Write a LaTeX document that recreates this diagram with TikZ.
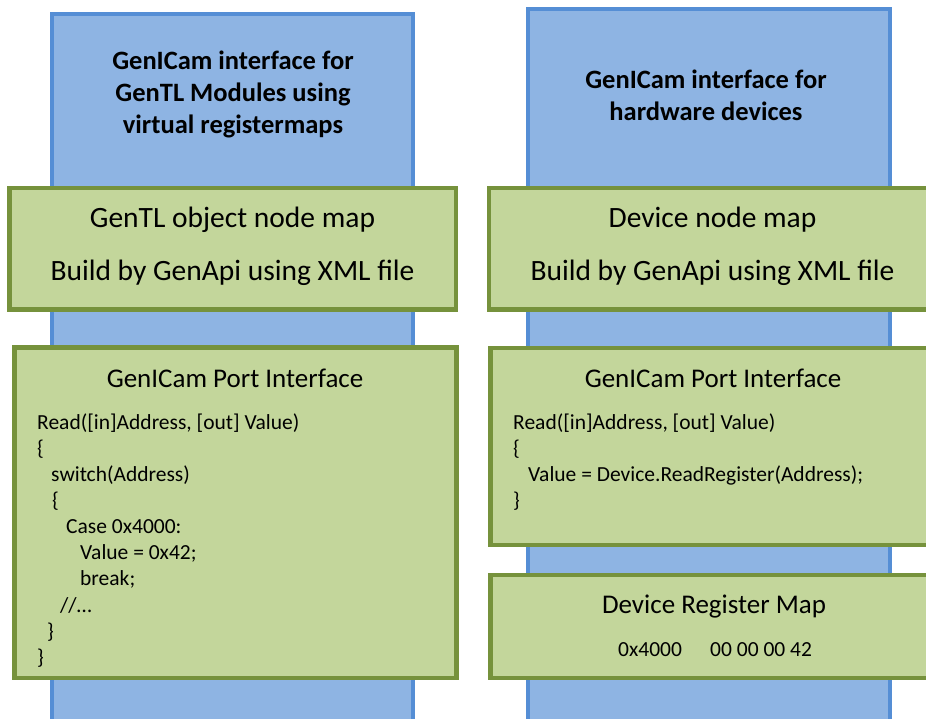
\documentclass[tikz,border=0pt]{standalone}
\usepackage{fontspec}
\setmainfont{Carlito}
\definecolor{colfill}{RGB}{142,180,227}
\definecolor{coledge}{RGB}{85,142,213}
\definecolor{boxfill}{RGB}{195,214,155}
\definecolor{boxedge}{RGB}{118,146,60}
\tikzset{
  column/.style={draw=coledge, fill=colfill, line width=4pt, anchor=north west, inner sep=0pt, outer sep=0pt},
  layer/.style={draw=boxedge, fill=boxfill, line width=4.2pt, anchor=north west, inner sep=0pt, outer sep=0pt},
  heading/.style={font=\fontsize{26.5}{32}\selectfont\bfseries, anchor=base, inner sep=0pt},
  maptitle/.style={font=\fontsize{29.5}{35}\selectfont, anchor=base, inner sep=0pt},
  porttitle/.style={font=\fontsize{27}{32}\selectfont, anchor=base, inner sep=0pt},
  code/.style={font=\fontsize{21.5}{26}\selectfont, anchor=base west, inner sep=0pt},
  regval/.style={font=\fontsize{21.5}{26}\selectfont, anchor=base west, inner sep=0pt},
}
\begin{document}
\begin{tikzpicture}[x=1pt, y=-1pt]
\useasboundingbox (0,0) rectangle (926,719);
\clip (0,0) rectangle (926,719);

% two interface columns
\node[column, minimum width=361pt, minimum height=760pt] (lcol) at (52,14) {};
\node[column, minimum width=362pt, minimum height=760pt] (rcol) at (527.5,9.5) {};

\node[heading] (lh1) at (233,70) {GenICam interface for};
\node[heading] (lh2) at (233,102) {GenTL Modules using};
\node[heading] (lh3) at (233,134) {virtual registermaps};
\node[heading] (rh1) at (706,89) {GenICam interface for};
\node[heading] (rh2) at (706,121) {hardware devices};

% node map layers
\node[layer, minimum width=446.5pt, minimum height=121.5pt] (lmap) at (9.5,188) {};
\node[layer, minimum width=450pt, minimum height=121.5pt] (rmap) at (489,188) {};
\node[maptitle] (lmap1) at (232.5,228) {GenTL object node map};
\node[maptitle] (lmap2) at (232.5,280) {Build by GenApi using XML file};
\node[maptitle] (rmap1) at (712.5,228) {Device node map};
\node[maptitle] (rmap2) at (712.5,280) {Build by GenApi using XML file};

% port interface layers
\node[layer, minimum width=442pt, minimum height=330.5pt] (lport) at (14.5,347.5) {};
\node[layer, minimum width=450pt, minimum height=197pt] (rport) at (490.5,348) {};
\node[porttitle] (lpt) at (235,387) {GenICam Port Interface};
\node[porttitle] (rpt) at (713,387) {GenICam Port Interface};

\node[code] (lc1) at (37,429.3) {Read([in]Address, [out] Value)};
\node[code] (lc2) at (37,455.5) {\{};
\node[code] (lc3) at (51,481.7) {switch(Address)};
\node[code] (lc4) at (52,507.9) {\{};
\node[code] (lc5) at (66,533.5) {Case 0x4000:};
\node[code] (lc6) at (80,559.5) {Value = 0x42;};
\node[code] (lc7) at (80,585.5) {break;};
\node[code] (lc8) at (60,612.5) {//…};
\node[code] (lc9) at (47,638.5) {\}};
\node[code] (lc10) at (37,664) {\}};

\node[code] (rc1) at (513,429.3) {Read([in]Address, [out] Value)};
\node[code] (rc2) at (513,455.5) {\{};
\node[code] (rc3) at (528,481.7) {Value = Device.ReadRegister(Address);};
\node[code] (rc4) at (513,507.9) {\}};

% device register map
\node[layer, minimum width=450pt, minimum height=102.7pt] (rreg) at (490.5,575) {};
\node[porttitle] (rrt) at (714,613) {Device Register Map};
\node[regval] (raddr) at (618,656) {0x4000};
\node[regval] (rdata) at (710,656) {00 00 00 42};
\end{tikzpicture}
\end{document}
